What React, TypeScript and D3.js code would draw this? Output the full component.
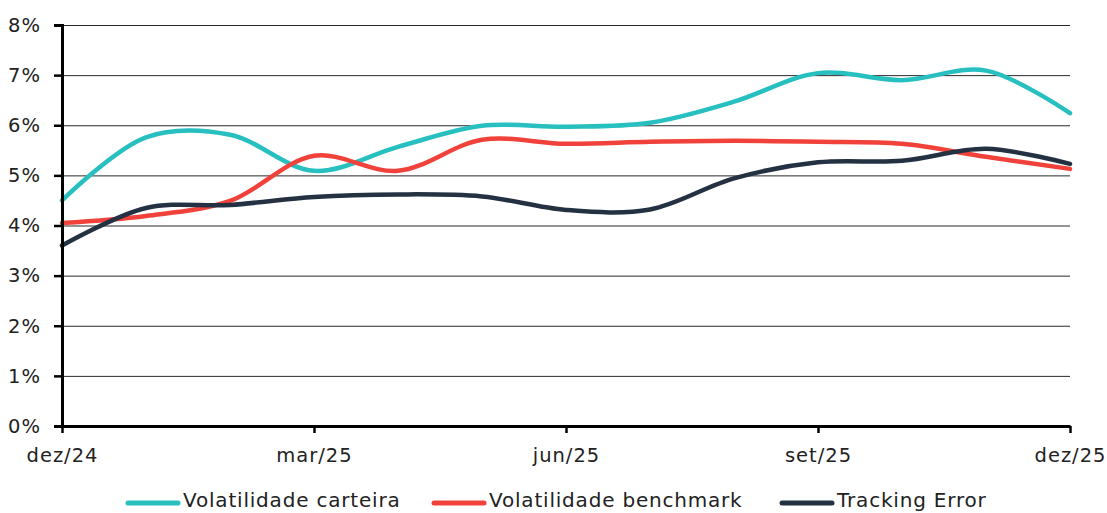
import React, { useEffect, useRef } from "react";
import * as d3 from "d3";

const months = ["dez/24", "jan/25", "fev/25", "mar/25", "abr/25", "mai/25", "jun/25", "jul/25", "ago/25", "set/25", "out/25", "nov/25", "dez/25"];
const tickMonths = ["dez/24", "mar/25", "jun/25", "set/25", "dez/25"];
const yTicks = [0, 1, 2, 3, 4, 5, 6, 7, 8];

const volCarteira = [4.5, 5.76, 5.81, 5.09, 5.57, 5.99, 5.97, 6.05, 6.47, 7.04, 6.9, 7.09, 6.24];
const volBenchmark = [4.05, 4.19, 4.49, 5.39, 5.09, 5.71, 5.63, 5.67, 5.69, 5.67, 5.63, 5.37, 5.13];
const trackingError = [3.6, 4.35, 4.41, 4.57, 4.62, 4.58, 4.31, 4.32, 4.94, 5.26, 5.29, 5.53, 5.23];

const seriesNames = ["Volatilidade carteira", "Volatilidade benchmark", "Tracking Error"];
const seriesColors = ["#27bfbf", "#f0423a", "#243142"];

export default function App() {
  const svgRef = useRef<SVGSVGElement>(null);

  useEffect(() => {
    if (!svgRef.current) return;
    const root = d3.select(svgRef.current);
    root.selectAll("*").remove();

    const W = 1107, H = 513;
    const margin = { top: 25, right: 37, bottom: 87, left: 62 };
    const width = W - margin.left - margin.right;
    const height = H - margin.top - margin.bottom;
    const font = "'DejaVu Sans', sans-serif";

    const svg = root.append("g").attr("transform", `translate(${margin.left},${margin.top})`);

    const x = d3.scalePoint<string>().domain(months).range([0, width]);
    const y = d3.scaleLinear().domain([0, 8]).range([height, 0]);

    // Grid
    svg.append("g")
      .call(d3.axisLeft(y).tickValues(yTicks).tickSize(-width).tickFormat(() => ""))
      .call(g => g.select(".domain").remove())
      .selectAll("line").attr("stroke", "#2a2a2a").attr("stroke-width", 1);

    // Lines
    const all = [volCarteira, volBenchmark, trackingError];
    all.forEach((vals, i) => {
      const line = d3.line<number>()
        .x((_, j) => x(months[j]) as number)
        .y(d => y(d))
        .curve(d3.curveCatmullRom.alpha(0.5));
      svg.append("path").datum(vals)
        .attr("fill", "none").attr("stroke", seriesColors[i])
        .attr("stroke-width", 4.5).attr("stroke-linecap", "round")
        .attr("d", line);
    });

    // Y axis
    const yAxis = svg.append("g")
      .call(d3.axisLeft(y).tickValues(yTicks).tickSize(8).tickPadding(13).tickFormat(d => `${d}%`));
    yAxis.select(".domain").attr("stroke", "#000").attr("stroke-width", 3);
    yAxis.selectAll("line").attr("stroke", "#000").attr("stroke-width", 2.5);
    yAxis.selectAll("text").attr("fill", "#222").style("font-size", "19.5px")
      .style("letter-spacing", "1px").style("font-family", font);

    // X axis
    const xAxis = svg.append("g").attr("transform", `translate(0,${height})`)
      .call(d3.axisBottom(x).tickValues(tickMonths).tickSize(7).tickSizeOuter(0).tickPadding(15));
    xAxis.select(".domain").attr("stroke", "#000").attr("stroke-width", 3);
    xAxis.selectAll("line").attr("stroke", "#000").attr("stroke-width", 2.5);
    xAxis.selectAll("text").attr("fill", "#222").style("font-size", "19.5px")
      .style("letter-spacing", "1px").style("font-family", font);

    // Legend
    const legendX = [126, 432, 780];
    const legend = root.append("g");
    seriesNames.forEach((name, i) => {
      legend.append("line").attr("x1", legendX[i] + 2).attr("x2", legendX[i] + 52).attr("y1", 503).attr("y2", 503)
        .attr("stroke", seriesColors[i]).attr("stroke-width", 5).attr("stroke-linecap", "round");
      legend.append("text").attr("x", legendX[i] + 57).attr("y", 507)
        .attr("fill", "#222").style("font-size", "20px").style("letter-spacing", "0.8px")
        .style("font-family", font).text(name);
    });
  }, []);

  return (
    <svg ref={svgRef} width={1107} height={513}
      style={{ position: "absolute", left: 0, top: 0, background: "#fff" }} />
  );
}
